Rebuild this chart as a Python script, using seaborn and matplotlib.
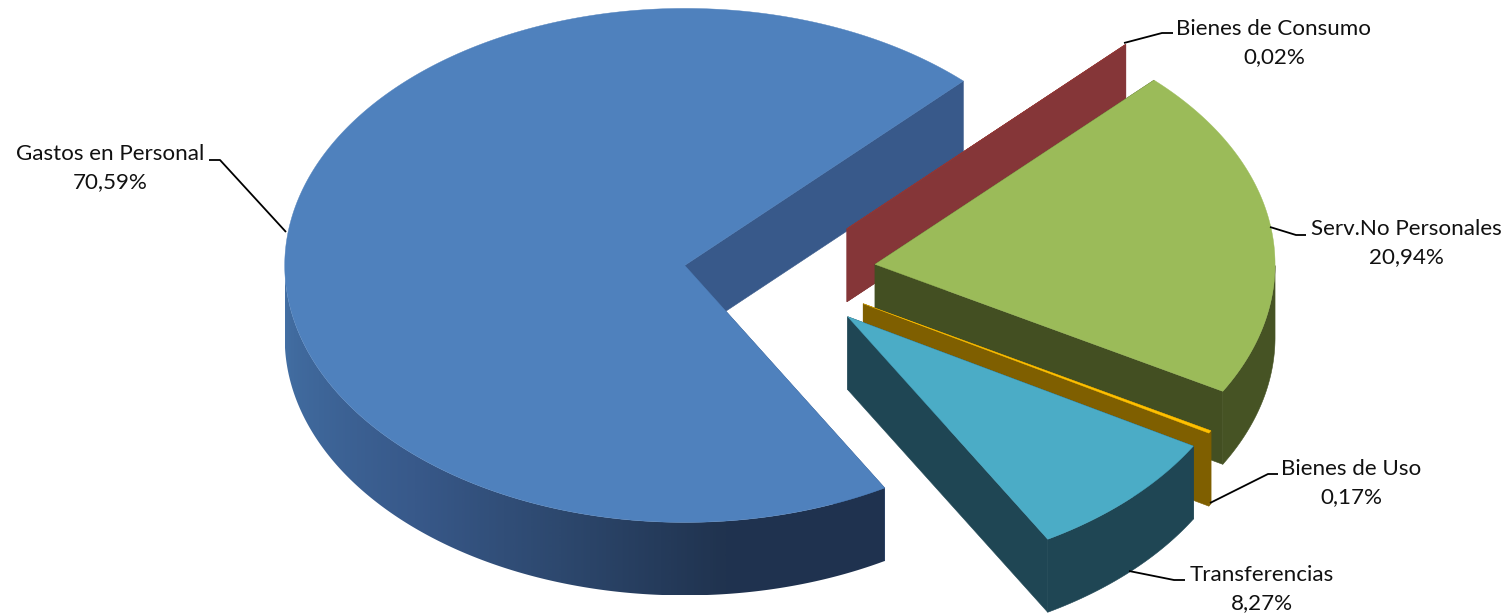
import numpy as np
import matplotlib
matplotlib.use("Agg")
import matplotlib.pyplot as plt
from matplotlib.patches import Polygon
import seaborn as sns

# Budget shares by spending category, in drawing order (clockwise)
categories = ["Gastos en Personal", "Bienes de Consumo", "Serv.No Personales",
              "Bienes de Uso", "Transferencias"]
shares = [70.59, 0.02, 20.94, 0.17, 8.27]

top_colors = ["#4F81BD", "#953735", "#9BBB59", "#FFC000", "#4BACC6"]
cut_colors = ["#38598A", "#853638", "#434F22", "#7F5F00", "#1F4654"]
rim_colors = [None, "#853638", "#465324", "#7F5F00", "#1F4654"]
gastos_rim_stops = ["#1F3250", "#20334F", "#2D486E", "#38598A", "#3E6699", "#4470A5"]

# Projected pie geometry, in figure pixels
CENTER = (780.0, 273.0)
RX, RY = 400.0, 257.0
EXPLODE = 0.24
DEPTH = 73.0
START_DEG = -60.0

# Label anchors and leader polylines, in the same order as the categories
label_pos = [(110, 168), (1274, 43), (1406, 243), (1351, 483), (1262, 589)]
leaders = [[(286, 232), (220, 160), (209, 160)],
           [(1124, 43), (1162, 33), (1173, 33)],
           [(1270, 227), (1296, 235), (1306, 235)],
           [(1210, 503), (1268, 474), (1278, 474)],
           [(1129, 571), (1174, 580), (1185, 580)]]

sns.set_theme(style="white")
plt.rcParams["font.family"] = ["Lato", "DejaVu Sans"]

fig = plt.figure(figsize=(15.10, 6.14), dpi=100, facecolor="white")
ax = fig.add_axes([0, 0, 1, 1])
ax.axis("off")


def project(theta, apex):
    """Screen position of a rim point at angle theta (degrees) around apex."""
    rad = np.radians(theta)
    return apex[0] + RX * np.cos(rad), apex[1] - RY * np.sin(rad)


def shaded_wall(outline, apex):
    """Fill a wall outline with shading that darkens towards the lit-away side."""
    x_min, x_max = outline[:, 0].min(), outline[:, 0].max()
    y_min, y_max = outline[:, 1].min(), outline[:, 1].max()
    columns = np.arange(x_min, x_max + 1)
    cos_t = np.clip((columns - apex[0]) / RX, -1, 1)
    theta = -np.degrees(np.arccos(cos_t))
    frac = np.clip((theta + 60.0) / -120.0, 0, 1)
    shades = np.array(sns.blend_palette(gastos_rim_stops, n_colors=256))
    row = shades[(frac * 255).astype(int)][:, :3]
    image = ax.imshow(row[np.newaxis, :, :], extent=(x_min, x_max, y_max, y_min),
                      aspect="auto", interpolation="bilinear", zorder=1)
    patch = Polygon(outline, closed=True, transform=ax.transData, fc="none", ec="none")
    ax.add_patch(patch)
    image.set_clip_path(patch)


total = sum(shares)
angle = START_DEG
for share, top, cut, rim in zip(shares, top_colors, cut_colors, rim_colors):
    sweep = 360.0 * share / total
    t0, t1 = angle, angle - sweep
    angle = t1
    mid = np.radians((t0 + t1) / 2)
    apex = (CENTER[0] + EXPLODE * RX * np.cos(mid),
            CENTER[1] - EXPLODE * RY * np.sin(mid))

    # Radial cut walls
    for t in (t0, t1):
        x, y = project(t, apex)
        ax.fill([apex[0], x, x, apex[0]], [apex[1], y, y + DEPTH, apex[1] + DEPTH],
                color=cut, lw=0.4, zorder=1)

    # Outer wall: only the part of the rim that faces the viewer
    thetas = np.linspace(t0, t1, max(int(abs(sweep) * 2), 2))
    front = thetas[np.sin(np.radians(thetas)) <= 0]
    if front.size > 1:
        xs, ys = project(front, apex)
        outline = np.column_stack([np.r_[xs, xs[::-1]], np.r_[ys, ys[::-1] + DEPTH]])
        if rim is None:
            shaded_wall(outline, apex)
        else:
            ax.fill(outline[:, 0], outline[:, 1], color=rim, lw=0.4, zorder=1)

    # Top face
    arc = np.linspace(t0, t1, max(int(abs(sweep) * 3), 2))
    xs, ys = project(arc, apex)
    ax.fill(np.r_[apex[0], xs], np.r_[apex[1], ys], color=top, lw=0.3, zorder=1)

# Leader lines and labels sit above the pie
for name, share, (lx, ly), path in zip(categories, shares, label_pos, leaders):
    px, py = zip(*path)
    ax.plot(px, py, color="black", lw=1.3, solid_capstyle="butt", zorder=20)
    pct = f"{share:.2f}".replace(".", ",") + "%"
    ax.text(lx, ly, f"{name}\n{pct}", ha="center", va="center", fontsize=16.1,
            color="#111111", linespacing=1.55, zorder=21)

ax.set_xlim(0, 1510)
ax.set_ylim(614, 0)

fig.savefig("out.png", dpi=100, facecolor="white")
